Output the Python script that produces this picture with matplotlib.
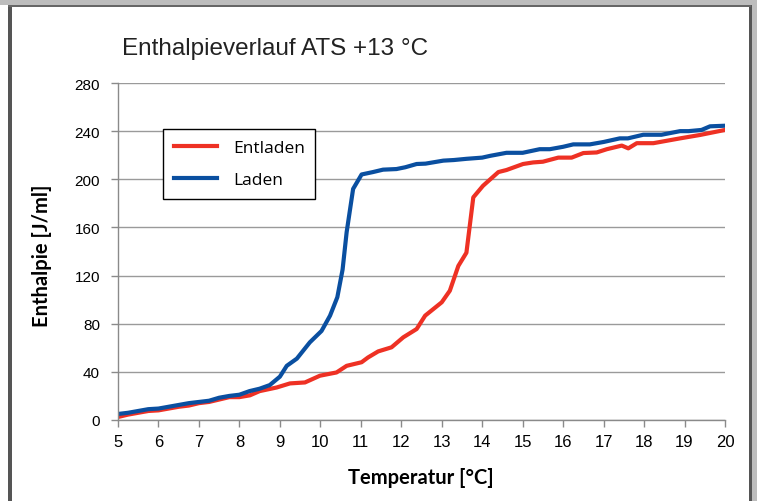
import matplotlib
matplotlib.use("Agg")
import matplotlib.pyplot as plt
from matplotlib.patches import Rectangle
from matplotlib.lines import Line2D
from matplotlib.legend_handler import HandlerLine2D

# Data
laden_t = [5.0, 5.25, 5.5, 5.75, 6.0, 6.25, 6.5, 6.75, 7.0, 7.25, 7.5, 7.75, 8.0, 8.25, 8.5, 8.75,
           9.0, 9.17, 9.42, 9.74, 10.03, 10.24, 10.42, 10.55, 10.65, 10.81, 11.02, 11.3, 11.55, 11.88,
           12.1, 12.38, 12.6, 13.04, 13.3, 13.61, 14.0, 14.2, 14.6, 15.0, 15.42, 15.67, 16.0, 16.25,
           16.66, 17.0, 17.4, 17.6, 17.98, 18.43, 18.89, 19.1, 19.42, 19.63, 20.0]
laden_h = [5, 6, 7.5, 9, 9.5, 11, 12.5, 14, 15, 16, 18.5, 20, 21, 24, 26, 29,
           36, 45, 51, 64.5, 74, 86.7, 102, 125, 156, 192, 204, 206, 208, 208.5,
           210, 212.7, 213, 215.5, 216, 217, 218, 219.5, 222, 222, 225, 225, 227, 229,
           229, 231, 234, 234, 237, 237, 240, 240, 241, 244, 244.5]

entladen_t = [5.0, 5.25, 5.5, 5.75, 6.0, 6.25, 6.5, 6.75, 7.0, 7.25, 7.5, 7.75, 8.0, 8.26, 8.5,
              8.92, 9.25, 9.62, 9.99, 10.4, 10.65, 11.02, 11.18, 11.43, 11.76, 12.05, 12.38, 12.59,
              13.0, 13.2, 13.41, 13.61, 13.78, 14.02, 14.4, 14.6, 15.01, 15.26, 15.5, 15.88, 16.21,
              16.5, 16.83, 17.08, 17.45, 17.61, 17.82, 18.23, 18.89, 19.38, 20.0]
entladen_h = [2.5, 4.5, 6, 7.5, 8, 9.5, 11, 12, 14, 15, 17, 19, 19, 20.5, 24,
              27, 30.4, 31.2, 36.8, 39.5, 45, 48, 52, 57, 60.4, 68.7, 75.6, 86.7,
              97.8, 107.4, 128, 139, 185, 194.6, 206, 207.7, 212.7, 214, 214.6, 218, 218,
              221.8, 222.3, 225, 228, 225.7, 230, 230, 234, 236.8, 241]

x_ticks = list(range(5, 21))
y_ticks = list(range(0, 281, 40))

W, H = 757, 502
fig = plt.figure(figsize=(W / 100, H / 100), dpi=100)
fig.patch.set_facecolor("white")

# Frame decorations
fig.add_artist(Rectangle((0, 1 - 6 / H), 1, 6 / H, transform=fig.transFigure,
                         facecolor="#bdbdbd", edgecolor="none"))
fig.add_artist(Rectangle((8 / W, 0), 4 / W, 1 - 6 / H, transform=fig.transFigure,
                         facecolor="#555555", edgecolor="none"))
fig.add_artist(Rectangle((749 / W, 0), 2.5 / W, 1 - 6 / H, transform=fig.transFigure,
                         facecolor="#555555", edgecolor="none"))
fig.add_artist(Rectangle((751.5 / W, 0), 5.5 / W, 1, transform=fig.transFigure,
                         facecolor="#bdbdbd", edgecolor="none"))
fig.add_artist(Rectangle((8 / W, 1 - 7.5 / H), 743 / W, 1.5 / H, transform=fig.transFigure,
                         facecolor="#666666", edgecolor="none"))

ax = fig.add_axes([118 / W, (H - 421) / H, (725 - 118) / W, (421 - 84) / H])
ax.plot(entladen_t, entladen_h, color="#ee3124", lw=3.0, label="Entladen", solid_joinstyle="round")
ax.plot(laden_t, laden_h, color="#0a4fa0", lw=3.0, label="Laden", solid_joinstyle="round")

ax.set_xlim(5, 20)
ax.set_ylim(0, 280)
ax.set_xticks(x_ticks)
ax.set_yticks(y_ticks)
ax.set_xticklabels([str(v) for v in x_ticks], fontsize=12, family="Liberation Sans")
ax.set_yticklabels([str(v) for v in y_ticks], fontsize=11, family="Liberation Sans")
ax.grid(axis="y", color="#9a9a9a", lw=1.0)
ax.set_axisbelow(True)
for s in ["top", "right"]:
    ax.spines[s].set_visible(False)
for s in ["left", "bottom"]:
    ax.spines[s].set_color("#8a8a8a")
    ax.spines[s].set_linewidth(1.0)
ax.tick_params(axis="both", direction="out", length=5, color="#8a8a8a", width=1.0)
ax.tick_params(axis="x", pad=5)
ax.tick_params(axis="y", pad=8)

fig.text(122 / W, 1 - 55 / H, "Enthalpieverlauf ATS +13 °C", fontsize=17.5, family="Liberation Sans",
         color="#222222", va="baseline", ha="left")
fig.text(421 / W, 1 - 478 / H, "Temperatur [°C]", fontsize=14.5, fontweight="bold",
         family="Lato", ha="center", va="center")
fig.text(42 / W, 1 - 256 / H, "Enthalpie [J/ml]", fontsize=14.5, fontweight="bold",
         family="Lato", ha="center", va="center", rotation=90)


class ShiftedLine(HandlerLine2D):
    """Legend line that starts a bit inside the handle box (extra left padding)."""
    def create_artists(self, legend, orig_handle, xdescent, ydescent, width, height, fontsize, trans):
        artists = super().create_artists(legend, orig_handle, xdescent, ydescent, width, height,
                                         fontsize, trans)
        shift = 0.14 * width
        for a in artists:
            xd = list(a.get_xdata())
            if len(xd) == 2:
                a.set_xdata([xd[0] + shift, xd[1]])
        return artists


leg = ax.legend(loc="upper left", bbox_to_anchor=(163 / W, 1 - 130 / H),
                bbox_transform=fig.transFigure, borderaxespad=0, fancybox=False,
                edgecolor="black", framealpha=1, prop={"family": "Open Sans", "size": 12.5},
                handlelength=2.5, handletextpad=0.9, borderpad=0.62, labelspacing=0.92,
                handler_map={Line2D: ShiftedLine()})
leg.get_frame().set_linewidth(1.0)

fig.savefig("out.png", dpi=100)
